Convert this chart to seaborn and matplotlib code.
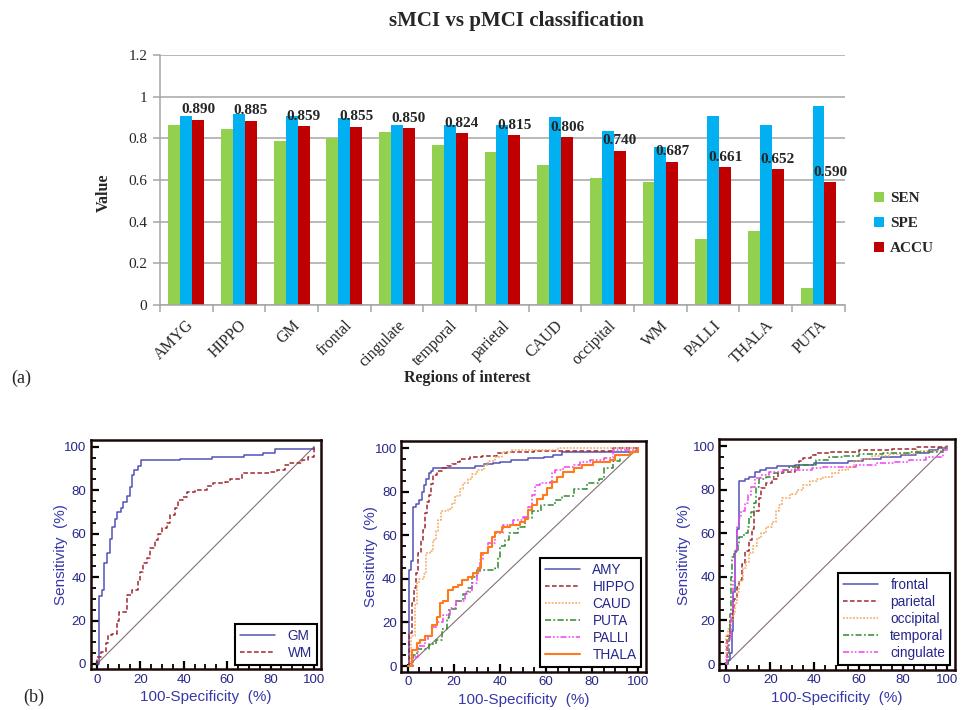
import matplotlib
matplotlib.use("Agg")
import matplotlib.pyplot as plt
from matplotlib.ticker import MultipleLocator, FixedLocator
from matplotlib.patches import Patch
import seaborn as sns
import pandas as pd

# ---------------- bar chart data ----------------
regions = ["AMYG", "HIPPO", "GM", "frontal", "cingulate", "temporal", "parietal",
           "CAUD", "occipital", "WM", "PALLI", "THALA", "PUTA"]
sen = [0.864, 0.843, 0.789, 0.800, 0.829, 0.766, 0.736, 0.674, 0.608, 0.589, 0.315, 0.355, 0.080]
spe = [0.909, 0.918, 0.906, 0.896, 0.864, 0.864, 0.865, 0.901, 0.835, 0.760, 0.909, 0.864, 0.954]
accu = [0.890, 0.885, 0.859, 0.855, 0.850, 0.824, 0.815, 0.806, 0.740, 0.687, 0.661, 0.652, 0.590]
metrics = ["SEN", "SPE", "ACCU"]
y_ticks = [0, 0.2, 0.4, 0.6, 0.8, 1.0, 1.2]
y_tick_labels = ["0", "0.2", "0.4", "0.6", "0.8", "1", "1.2"]

# ---------------- ROC data (step corners: x = 100-Specificity, y = Sensitivity) ----------------
chance_x = [0, 100]
chance_y = [0, 100]

gm_x = [0, 1.1, 2.2, 3.2, 4.8, 6, 6.9, 8.3, 9.4, 11, 12, 13.7, 15.2, 16.3, 17.2, 18.7, 20.1, 38.2, 53, 68, 76.6, 82, 100]
gm_y = [0, 31.3, 34, 46.4, 51, 57.4, 63, 66.7, 70.2, 71.7, 74.8, 77.4, 81.7, 87, 89.4, 91, 94, 94.3, 95.2, 96.3, 97, 99, 100]
wm_x = [0, 0, 2, 4, 5, 7, 9, 10, 13.7, 15.9, 19, 19.8, 21.3, 22.9, 24.4, 26.7, 28.3, 29.8, 32.1, 33.6,
        35.9, 37.5, 39.8, 41.6, 45.2, 50.5, 53.6, 59, 61.3, 66.7, 79.7, 82.8, 86.6, 89, 94.3, 97.4, 100, 100]
wm_y = [0, 3.4, 5.7, 9.5, 13.4, 14, 20, 24, 31.8, 34, 38.7, 42.5, 46.4, 48.7, 53.3, 57, 59.8, 62.5, 64.8, 68.7,
        71.7, 75.6, 77, 79.4, 80.2, 82, 83.3, 84, 85, 87.9, 88.6, 89.4, 91.7, 92.8, 94, 95.2, 96, 100]

amy_x = [0, 0.5, 1.5, 2, 3.5, 5, 6, 7, 8, 9, 10, 11, 29, 33, 37, 40, 45, 52, 59, 63, 67, 100]
amy_y = [0, 44, 48, 73, 74.5, 76, 80, 83, 86, 88.5, 89.5, 91, 91.7, 92.5, 93, 93.5, 94.3, 95.3, 96, 97, 98, 100]
hippo_x = [0, 0.6, 1.6, 2.6, 3.7, 4.5, 5.7, 6.4, 7.4, 8.4, 9.3, 10, 11, 12.5, 14.7, 16.8, 19, 21, 22.6, 27,
           32, 38.5, 43, 55, 89, 100]
hippo_y = [0, 15, 28.7, 36, 42.5, 51.7, 57.8, 62.4, 70, 75.4, 78.4, 83.7, 87.6, 89.4, 90.7, 91.7, 92.5, 93.7, 95, 95.7,
           96.5, 97.6, 98.3, 98.6, 100, 100]
caud_x = [0, 1.5, 3, 4, 5, 7, 8, 9.5, 11, 12, 13, 14.5, 17.5, 19, 20.5, 22.5, 24, 26, 28, 30, 33, 35, 38, 41, 45, 65, 100]
caud_y = [0, 14, 28, 38, 40, 42, 52, 53, 58, 62, 67, 71, 72, 75, 78, 81, 84, 86, 88, 90, 92, 94, 96, 98, 99, 100, 100]
puta_x = [0, 2, 4, 9, 12, 15, 17, 18, 21, 24, 26, 28, 30, 38, 39, 40, 42, 44, 48, 51, 54, 58, 64, 67, 72, 78,
          83, 85, 89, 92, 96, 100]
puta_y = [0, 5, 8, 10, 12, 17, 22, 26, 30, 33, 36, 41, 44, 45, 50, 55, 58, 61, 64, 68, 71, 74, 76, 78, 81, 84,
          86, 91, 94, 97, 98, 100]
palli_x = [0, 2, 4.5, 7.4, 8.8, 10.3, 12.5, 15.4, 18.3, 21, 24.8, 27.7, 29.9, 31.3, 32.8, 35, 37.8, 41.4, 45.8, 50,
           52.3, 53.8, 55.2, 57.4, 61.7, 62.5, 64, 67.5, 72, 74.8, 79, 85, 89, 100]
palli_y = [0, 4, 9, 12, 14, 18, 20, 23.4, 26.5, 30, 34, 37.9, 42.5, 48.6, 51.7, 56.3, 61, 64.7, 67, 68.5,
           73, 78.4, 83, 83.8, 84.6, 88.4, 90, 91.4, 92.2, 93.7, 94.5, 95.3, 99, 100]
thala_x = [0, 1.6, 3.8, 5.2, 7.4, 10.3, 12.5, 13.9, 15.4, 17.4, 19.7, 21.9, 23.3, 26.2, 28.4, 30.6, 31.6, 35, 36.4,
           37.8, 40.7, 44.3, 48.7, 50.9, 52.3, 53.8, 55.9, 58.8, 60.3, 62.5, 64.6, 67.5, 72, 75.5, 80.6, 87.8, 90,
           96.5, 100]
thala_y = [0, 7.3, 10.4, 12, 14, 18.8, 22.6, 28.7, 30, 34.8, 36.4, 37, 39.4, 41, 42.5, 44.8, 51.7, 54.7, 59.3,
           61.7, 63.9, 64.7, 66, 67.6, 71.4, 73.7, 76.8, 78.4, 81.5, 84.6, 86.8, 89, 90.7, 92.2, 93.7, 94.5, 96.8,
           98.3, 100]

frontal_x = [0, 1, 2, 2.5, 3, 4, 5, 6, 8.5, 10.5, 13, 15.5, 18, 23, 31, 40, 55, 62, 70, 79, 86, 92, 96, 100]
frontal_y = [0, 2, 5, 15, 33, 52, 62, 84, 85, 86, 88, 89, 90, 91, 91.5, 92, 93, 94, 95, 96, 97, 98, 99, 100]
parietal_x = [0, 0.5, 2, 3, 3.8, 4.8, 6, 7.2, 8.7, 10.6, 11.8, 12.8, 14.8, 15.8, 18, 21, 23.4, 25.6, 31, 33,
              34.7, 38.5, 40.7, 46.8, 60, 75, 86, 100]
parietal_y = [0, 13, 20, 26, 30, 35.5, 38.5, 46, 52, 57, 62, 70, 76, 80.7, 83, 85, 87.5, 88.2, 89.8, 93,
              94.3, 96, 96.6, 97.4, 98, 98.5, 99.7, 100]
occipital_x = [0, 0, 0.8, 2, 3, 4, 5, 6, 7.5, 9, 10.5, 12, 14, 16, 18, 21, 22.5, 24, 25.5, 29,
               32, 35, 38, 41, 44, 48, 51, 55, 58, 61, 66, 74, 86, 98, 100]
occipital_y = [0, 13, 16, 20, 23, 28, 33, 38, 44, 47, 51, 54, 58, 60, 63, 65, 70, 73, 76, 78,
               80, 82, 84, 85, 86, 87.5, 89, 90.5, 93, 94, 95.5, 96.5, 97.5, 99, 100]
temporal_x = [0, 1, 1.5, 1.8, 2.3, 2.7, 3.8, 5.3, 6, 8.3, 9.8, 10.6, 11.3, 12.8, 13.6, 15, 18, 21.9, 25.6, 28.7,
              33, 40.7, 46.8, 52.8, 60.3, 70.9, 83, 98, 100]
temporal_y = [0, 5, 11.8, 23, 40, 49, 51.5, 55, 58.4, 60, 63, 66.8, 69.9, 73.7, 81.3, 84.7, 85.9, 87.5, 89, 90.5,
              91.3, 93.6, 94.8, 95.4, 96.3, 96.9, 97.4, 99, 100]
cingulate_x = [0, 0.5, 0.8, 1.8, 2.3, 3, 3.3, 4.2, 4.8, 5.8, 7, 8.5, 9.8, 11.3, 13.3, 15.8, 19.6, 25.6, 39, 43.7,
               52.8, 58.8, 67.9, 75.4, 83, 90.5, 98, 100]
cingulate_y = [0, 3.4, 11, 12.5, 23, 32, 38.5, 52.3, 63, 67, 70, 73.7, 77.5, 81.3, 85.2, 86.7, 88.2, 89, 89.8, 90.2,
               90.5, 91.3, 92.4, 92.8, 93.6, 95.1, 98.2, 100]

roc_ticks = [0, 20, 40, 60, 80, 100]

# ---------------- styling ----------------
sns.set_theme(style="white")
plt.rcParams["font.family"] = ["Liberation Serif", "DejaVu Serif"]
SANS = ["Liberation Sans", "DejaVu Sans"]

fig = plt.figure(figsize=(9.66, 7.10), dpi=100)

# ================= (a) bar chart =================
grey = "#a6a6a6"
ax = fig.add_axes([0.1656, 0.5704, 0.709, 0.352])
df = pd.DataFrame({
    "Region": regions * 3,
    "Metric": [m for m in metrics for _ in regions],
    "Value": sen + spe + accu,
})
bar_colors = ["#92D050", "#00B0F0", "#C00000"]
sns.barplot(data=df, x="Region", y="Value", hue="Metric", hue_order=metrics,
            palette=bar_colors, width=0.68, saturation=1, linewidth=0,
            ax=ax, legend=False)
ax.set_ylim(0, 1.2)
ax.set_xlim(-0.5, len(regions) - 0.5)
ax.set_axisbelow(True)
ax.yaxis.grid(True, color=grey, lw=1.1)
ax.xaxis.grid(False)
for s in ["top", "right"]:
    ax.spines[s].set_visible(False)
for s in ["left", "bottom"]:
    ax.spines[s].set_color(grey)
    ax.spines[s].set_linewidth(1.1)
ax.set_yticks(y_ticks, y_tick_labels, fontsize=11)
ax.set_xticks(range(len(regions)), regions, rotation=45, ha="right",
              rotation_mode="anchor", fontsize=11.5)
ax.xaxis.set_minor_locator(FixedLocator([i - 0.5 for i in range(len(regions) + 1)]))
ax.tick_params(axis="x", which="major", length=0, pad=9)
ax.tick_params(axis="x", which="minor", length=5, width=1.1, color=grey, direction="out", bottom=True)
ax.tick_params(axis="y", length=5, width=1.1, color=grey, direction="out", left=True, pad=4)
ax.set_xlabel("")
ax.set_ylabel("Value", fontsize=11.5, fontweight="bold")
ax.yaxis.set_label_coords(-0.07, 0.45)

ax.bar_label(ax.containers[2], labels=[f"{v:.3f}" for v in accu], padding=2.5,
             fontsize=11, fontweight="bold")

handles = [Patch(facecolor=c, edgecolor="none") for c in bar_colors]
fig.legend(handles, metrics, loc="center left", bbox_to_anchor=(0.891, 0.685),
           frameon=False, handlelength=0.65, handleheight=0.65, handletextpad=0.35,
           labelspacing=0.75, prop={"weight": "bold", "size": 11, "family": ["Liberation Serif"]})

fig.text(0.535, 0.970, "sMCI vs pMCI classification", ha="center", va="center",
         fontsize=15, fontweight="bold")
fig.text(0.484, 0.4676, "Regions of interest", ha="center", va="center",
         fontsize=11.5, fontweight="bold")
fig.text(0.012, 0.4676, "(a)", ha="left", va="center", fontsize=13)
fig.text(0.024, 0.018, "(b)", ha="left", va="center", fontsize=13)

# ================= (b) ROC panels =================
tick_col = "#26268a"
lab_col = "#3838a8"
frame_col = "#1c0808"

BLUE = "#5252b8"
DRED = "#a02830"
LORANGE = "#f5a55a"
GREEN = "#2f8a2f"
MAGENTA = "#f040f0"
ORANGE = "#ff7a1a"

DASH = (0, (3, 1.6))
DOT = (0, (1.2, 1.0))
DASHDOT = (0, (4, 1.5, 1.2, 1.5))
DASHDOTDOT = (0, (4, 1.3, 1.1, 1.3, 1.1, 1.3))

panels = [
    dict(pos=[0.0937, 0.0572, 0.2391, 0.3225], ylab_x=-0.098,
         curves=[("GM", gm_x, gm_y, BLUE, "-", 1.1),
                 ("WM", wm_x, wm_y, DRED, DASH, 1.1)]),
    dict(pos=[0.4152, 0.0542, 0.2536, 0.3240], ylab_x=-0.095,
         curves=[("AMY", amy_x, amy_y, BLUE, "-", 1.1),
                 ("HIPPO", hippo_x, hippo_y, DRED, DASH, 1.1),
                 ("CAUD", caud_x, caud_y, LORANGE, DOT, 1.1),
                 ("PUTA", puta_x, puta_y, GREEN, DASHDOT, 1.1),
                 ("PALLI", palli_x, palli_y, MAGENTA, DASHDOTDOT, 1.1),
                 ("THALA", thala_x, thala_y, ORANGE, "-", 1.5)]),
    dict(pos=[0.7447, 0.0570, 0.2436, 0.3240], ylab_x=-0.12,
         curves=[("frontal", frontal_x, frontal_y, BLUE, "-", 1.1),
                 ("parietal", parietal_x, parietal_y, DRED, DASH, 1.1),
                 ("occipital", occipital_x, occipital_y, LORANGE, DOT, 1.1),
                 ("temporal", temporal_x, temporal_y, GREEN, DASHDOT, 1.1),
                 ("cingulate", cingulate_x, cingulate_y, MAGENTA, DASHDOTDOT, 1.1)]),
]

for p in panels:
    rax = fig.add_axes(p["pos"])
    rax.set_facecolor("white")
    sns.lineplot(x=chance_x, y=chance_y, ax=rax, color="#857070", lw=0.8,
                 estimator=None, sort=False)
    for name, xs, ys, col, ls, lw in p["curves"]:
        sns.lineplot(x=xs, y=ys, ax=rax, color=col, linestyle=ls, lw=lw,
                     drawstyle="steps-post", estimator=None, sort=False, label=name)
    rax.set_xlim(-3, 103.5)
    rax.set_ylim(-2.5, 103)
    rax.set_xticks(roc_ticks, [str(t) for t in roc_ticks], fontsize=9.5,
                   color=tick_col, fontfamily=SANS)
    rax.set_yticks(roc_ticks, [str(t) for t in roc_ticks], fontsize=9.5,
                   color=tick_col, fontfamily=SANS)
    rax.xaxis.set_minor_locator(MultipleLocator(5))
    rax.yaxis.set_minor_locator(MultipleLocator(5))
    rax.tick_params(which="both", direction="in", bottom=True, left=True,
                    top=False, right=False, color="black")
    rax.tick_params(which="major", length=6, width=1.6, pad=3)
    rax.tick_params(which="minor", length=3.5, width=1.3)
    for s in rax.spines.values():
        s.set_color(frame_col)
        s.set_linewidth(1.8)
        s.set_visible(True)
    rax.grid(False)
    rax.set_xlabel("100-Specificity  (%)", fontsize=11, color=lab_col, fontfamily=SANS)
    rax.set_ylabel("Sensitivity  (%)", fontsize=11, color=lab_col, fontfamily=SANS)
    rax.xaxis.set_label_coords(0.5, -0.092)
    rax.yaxis.set_label_coords(p["ylab_x"], 0.5)
    leg = rax.legend(loc="lower right", frameon=True, fancybox=False, framealpha=1,
                     edgecolor="black", handlelength=2.6, handletextpad=0.9,
                     borderpad=0.35, labelspacing=0.22, borderaxespad=0.35,
                     prop={"family": SANS, "size": 9.8})
    leg.get_frame().set_linewidth(1.5)
    for t in leg.get_texts():
        t.set_color(tick_col)

fig.savefig("out.png", dpi=100)
